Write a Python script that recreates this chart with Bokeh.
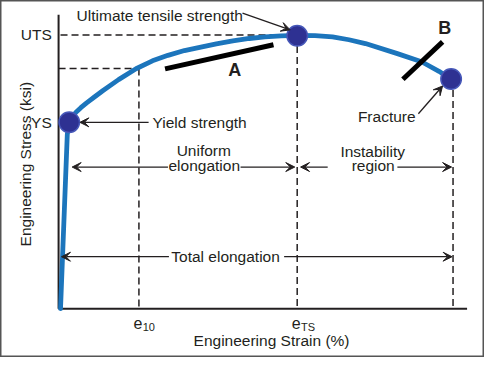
from math import pi
from bokeh.plotting import figure
from bokeh.models import Range1d, Arrow, VeeHead, ColumnDataSource
from bokeh.core.properties import value
from bokeh.embed import file_html
from bokeh.resources import INLINE

# ---- data (arbitrary diagram units: strain, stress) ----
curve_strain = [2, 9, 11, 14, 18, 23, 29, 37, 46, 62, 80, 97, 113, 130, 147, 163, 180, 197, 213, 230, 246.5, 265, 283, 300, 317, 350, 375, 393, 405]
curve_stress = [0, 182, 195, 200.5, 205.3, 210, 215, 221.2, 228, 239.3, 250.7, 259, 264.7, 269.7, 273.3, 276.7, 279.7, 282.3, 284, 285, 285.6, 285.3, 284, 281, 277, 266.5, 258, 248, 240]

ys_strain, ys_stress = 11, 194.7
uts_strain, uts_stress = 246.5, 286
e10_strain, e10_stress = 83, 251
fracture_strain, fracture_stress = 405.5, 240

point_strain = [ys_strain, uts_strain, fracture_strain]
point_stress = [ys_stress, uts_stress - 0.8, fracture_stress]

axis_x_max = 422
axis_y_max = 307

tick_y_labels = ["UTS", "YS"]
tick_y_values = [uts_stress, ys_stress]

tick_x_main = ["e", "e"]
tick_x_sub = ["10", "TS"]
tick_x_values = [e10_strain, uts_strain]

# slope marks A and B
mark_x0 = [110, 355.7]
mark_y0 = [250.5, 239.7]
mark_x1 = [222, 396.7]
mark_y1 = [275.7, 278.7]
mark_labels = ["A", "B"]
mark_label_x = [182, 399]
mark_label_y = [249, 293]

# annotation labels
label_text = ["Ultimate tensile strength", "Uniform", "elongation", "Instability", "region", "Total elongation", "Fracture"]
label_x = [104.5, 150, 150.5, 324.5, 325, 172.5, 339]
label_y = [306, 165, 150, 164, 150, 55, 200.3]
yield_text = ["Yield strength"]
yield_x = [97]
yield_y = [194.7]

# arrows (start -> tip)
arr_x0 = [190, 93, 113, 188, 278, 350, 114, 233, 371.7]
arr_y0 = [308.7, 194.7, 148, 148, 148, 148, 54.3, 54.3, 203.7]
arr_x1 = [239.3, 22, 14, 244, 250, 406, 3, 406.5, 396.7]
arr_y1 = [291.3, 194.7, 148, 148, 148, 148, 54.3, 54.3, 232.7]

FONT = "Liberation Sans"
INK = "#231f20"
FS = "15.5px"

p = figure(width=484, height=357, output_backend="svg", toolbar_location=None,
           x_range=Range1d(-60, 440), y_range=Range1d(-51, 322),
           x_axis_type=None, y_axis_type=None, min_border=0,
           background_fill_color="white", border_fill_color="white")
p.grid.visible = False
p.outline_line_color = "#555555"
p.outline_line_width = 2

# axes lines
p.segment(x0=[0, 0], y0=[0, 0], x1=[0, axis_x_max], y1=[axis_y_max, 0], line_color=INK, line_width=2)

# dashed guide lines
dash_src = ColumnDataSource(dict(
    x0=[2, 0, e10_strain, uts_strain, fracture_strain + 2],
    y0=[uts_stress, e10_stress, e10_stress, uts_stress, fracture_stress],
    x1=[uts_strain, e10_strain, e10_strain, uts_strain, fracture_strain + 2],
    y1=[uts_stress, e10_stress, 0, 0, 0]))
p.segment(x0="x0", y0="y0", x1="x1", y1="y1", source=dash_src, line_color=INK, line_width=1.5, line_dash="7 4")

# arrows
arr_src = ColumnDataSource(dict(x0=arr_x0, y0=arr_y0, x1=arr_x1, y1=arr_y1))
p.add_layout(Arrow(source=arr_src, x_start="x0", y_start="y0", x_end="x1", y_end="y1",
                   line_color=INK, line_width=1.3,
                   end=VeeHead(size=9, fill_color=INK, line_color=INK, line_width=1)))

# curve
p.line(curve_strain, curve_stress, line_color="#1c75bc", line_width=4.8, line_join="round", line_cap="round")

# slope marks
p.segment(x0=mark_x0, y0=mark_y0, x1=mark_x1, y1=mark_y1, line_color="black", line_width=5)

# points
p.scatter(point_strain, point_stress, size=20.5, fill_color="#2e3192", line_color="#4657b8", line_width=1.5)

# texts
p.text(x=label_x, y=label_y, text=label_text, text_font=value(FONT), text_font_size=FS,
       text_align="center", text_baseline="middle", text_color=INK)
p.text(x=yield_x, y=yield_y, text=yield_text, text_font=value(FONT), text_font_size=FS,
       text_align="left", text_baseline="middle", text_color=INK)
p.text(x=mark_label_x, y=mark_label_y, text=mark_labels, text_font=value(FONT), text_font_size="18px",
       text_font_style="bold", text_align="center", text_baseline="middle", text_color=INK)

# tick labels
p.text(x=[0, 0], y=tick_y_values, text=tick_y_labels, x_offset=-6.8, text_font=value(FONT), text_font_size=FS,
       text_align="right", text_baseline="middle", text_color=INK)
p.text(x=tick_x_values, y=[0, 0], text=tick_x_main, x_offset=-1, y_offset=13.9, text_font=value(FONT),
       text_font_size="16px", text_align="center", text_baseline="middle", text_color=INK)
p.text(x=tick_x_values, y=[0, 0], text=tick_x_sub, x_offset=3.8, y_offset=18.2, text_font=value(FONT),
       text_font_size="11px", text_align="left", text_baseline="middle", text_color=INK)

# axis titles
p.text(x=[220], y=[-33], text=["Engineering Strain (%)"], text_font=value(FONT), text_font_size=FS,
       text_align="center", text_baseline="middle", text_color=INK)
p.text(x=[-34], y=[151], text=["Engineering Stress (ksi)"], angle=pi / 2, text_font=value(FONT),
       text_font_size=FS, text_align="center", text_baseline="middle", text_color=INK)

open("out.html", "w").write(file_html(p, INLINE))
